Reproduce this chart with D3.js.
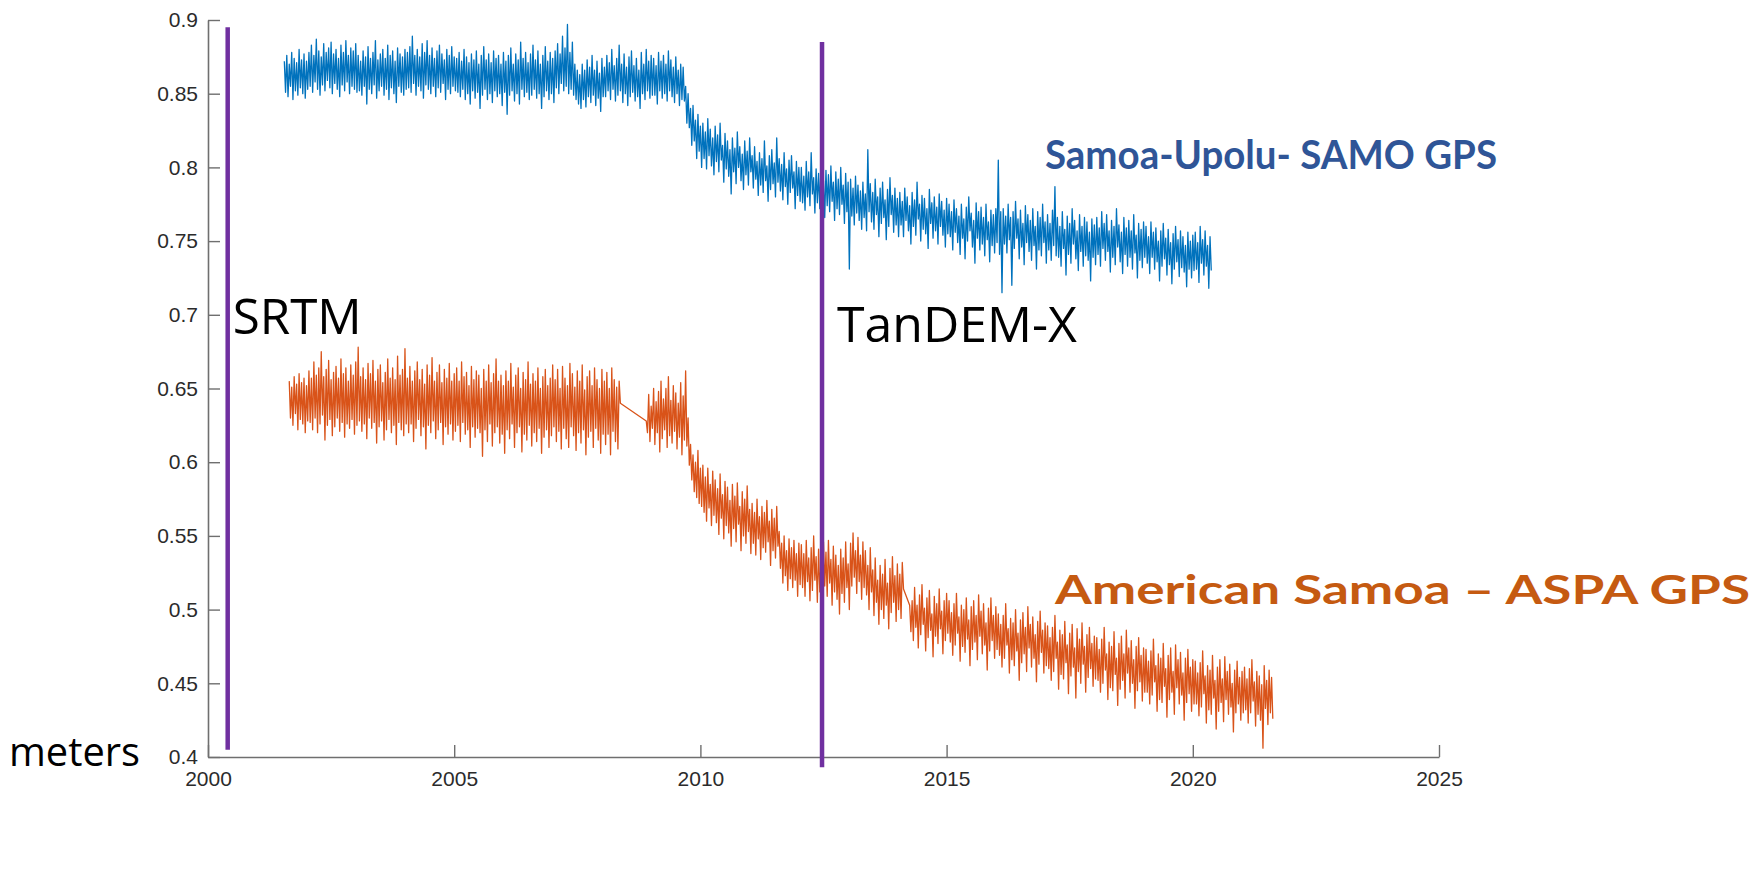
<!DOCTYPE html>
<html>
<head>
<meta charset="utf-8">
<script src="https://cdn.jsdelivr.net/npm/d3@7"></script>
<style>
  html, body { margin: 0; padding: 0; background: #fff; }
  svg { display: block; }
</style>
</head>
<body>
<svg id="chart" width="1759" height="889"></svg>
<script>
// ---------------- DATA ----------------
const xTicks = [2000, 2005, 2010, 2015, 2020, 2025];
const yTicks = [0.4, 0.45, 0.5, 0.55, 0.6, 0.65, 0.7, 0.75, 0.8, 0.85, 0.9];

// Samoa-Upolu SAMO GPS (m), read as the upper and lower edge of the noisy daily band:
// "High" readings every 0.05 yr from 2001.55, "Low" readings offset by 0.025 yr.
const samoStart = 2001.55;
const samoStep = 0.05;
const samoHigh = [
  .872,.876,.870,.878,.874,.871,.880,.873,.877,.872,
  .878,.883,.876,.887,.879,.875,.884,.878,.881,.885,.877,.880,.874,.883,.878,.886,.876,.881,.879,.884,
  .876,.872,.879,.875,.882,.874,.878,.886,.873,.877,.880,.874,.883,.876,.879,.872,.881,.877,.875,.880,
  .878,.882,.889,.876,.880,.875,.884,.878,.886,.876,.881,.874,.879,.883,.877,.873,.880,.876,.882,.875,
  .874,.878,.872,.880,.875,.871,.877,.873,.879,.870,.876,.882,.873,.877,.871,.879,.874,.876,.870,.878,
  .872,.876,.881,.870,.877,.873,.885,.874,.878,.871,.877,.883,.873,.879,.870,.876,.882,.872,.878,.874,
  .879,.884,.877,.889,.881,.897,.878,.885,.870,.866,.863,.870,.866,.873,.868,.876,.866,.872,.864,.874,
  .868,.876,.871,.880,.869,.874,.883,.870,.877,.868,.875,.879,.869,.874,.866,.878,.870,.880,.872,.876,
  .874,.869,.878,.872,.876,.870,.879,.873,.868,.875,.866,.870,.868,.855,.850,.840,.842,.832,.836,.828,
  .830,.824,.833,.826,.820,.828,.822,.830,.815,.823,.818,.812,.820,.813,.824,.814,.809,.818,.811,.820,
  .808,.814,.804,.810,.806,.818,.801,.808,.812,.803,.820,.806,.802,.810,.799,.805,.808,.797,.804,.800,
  .800,.794,.804,.797,.810,.793,.799,.796,.803,.791,.798,.795,.801,.790,.797,.792,.800,.788,.796,.790,
  .792,.786,.794,.788,.784,.790,.782,.812,.789,.783,.792,.780,.786,.790,.778,.785,.793,.781,.786,.779,
  .783,.777,.786,.780,.774,.783,.778,.790,.775,.781,.779,.772,.785,.776,.780,.773,.782,.777,.771,.779,
  .775,.770,.778,.772,.767,.775,.765,.773,.780,.769,.764,.776,.770,.773,.766,.775,.763,.771,.768,.772,
  .805,.770,.772,.767,.775,.766,.770,.777,.765,.771,.762,.774,.768,.764,.772,.760,.770,.766,.775,.763,
  .768,.762,.771,.787,.766,.760,.770,.758,.767,.762,.772,.764,.757,.768,.760,.766,.763,.756,.765,.761,
  .766,.759,.770,.762,.768,.757,.764,.760,.772,.761,.756,.766,.759,.764,.757,.768,.754,.762,.758,.763,
  .760,.753,.763,.756,.759,.750,.757,.762,.752,.758,.749,.755,.760,.751,.757,.753,.747,.756,.750,.754,
  .756,.749,.760,.751,.757,.747,.753
];
const samoLow = [
  .851,.848,.855,.846,.852,.849,.854,.850,.847,.853,
  .855,.851,.858,.853,.849,.856,.852,.859,.854,.850,.857,.853,.848,.856,.852,.858,.850,.855,.853,.851,
  .852,.849,.855,.843,.853,.850,.856,.847,.852,.855,.849,.853,.846,.854,.850,.844,.855,.851,.849,.853,
  .854,.851,.857,.849,.855,.852,.847,.856,.853,.850,.855,.848,.854,.851,.857,.846,.853,.850,.855,.852,
  .851,.848,.853,.846,.850,.843,.852,.847,.851,.840,.849,.853,.846,.850,.844,.852,.848,.850,.842,.851,
  .836,.849,.852,.845,.850,.843,.853,.848,.851,.846,.849,.853,.847,.850,.840,.848,.852,.846,.850,.844,
  .854,.850,.857,.852,.855,.850,.853,.849,.846,.843,.840,.846,.841,.848,.844,.849,.842,.847,.838,.848,
  .848,.852,.846,.853,.845,.849,.852,.844,.850,.842,.848,.851,.845,.848,.840,.850,.846,.852,.847,.849,
  .849,.843,.852,.847,.850,.845,.852,.848,.844,.850,.842,.846,.845,.830,.827,.815,.818,.806,.811,.800,
  .806,.799,.808,.801,.795,.804,.797,.805,.790,.799,.794,.782,.797,.789,.800,.791,.785,.795,.788,.797,
  .786,.792,.781,.788,.783,.791,.777,.785,.789,.780,.790,.784,.778,.787,.775,.783,.786,.772,.781,.777,
  .776,.771,.780,.774,.782,.769,.776,.772,.779,.766,.774,.770,.777,.764,.772,.768,.775,.762,.770,.731,
  .767,.761,.769,.764,.758,.766,.757,.770,.763,.758,.768,.753,.762,.766,.751,.760,.768,.756,.761,.753,
  .761,.753,.764,.757,.748,.760,.754,.765,.750,.758,.755,.745,.762,.752,.757,.748,.760,.754,.746,.755,
  .753,.744,.756,.749,.741,.752,.738,.750,.757,.746,.735,.752,.744,.748,.740,.751,.736,.747,.742,.749,
  .741,.715,.748,.742,.751,.720,.745,.752,.738,.746,.734,.749,.743,.737,.747,.731,.744,.740,.749,.735,
  .744,.737,.747,.740,.739,.733,.745,.727,.741,.735,.748,.738,.730,.743,.733,.740,.737,.723,.739,.734,
  .741,.733,.745,.737,.743,.729,.739,.734,.746,.736,.728,.741,.733,.739,.731,.742,.725,.737,.732,.739,
  .735,.728,.739,.731,.736,.723,.733,.738,.727,.734,.721,.731,.736,.726,.732,.729,.719,.731,.725,.730,
  .731,.722,.735,.727,.733,.718,.730
];

// American Samoa ASPA GPS (m): three recorded stretches, upper/lower band edges offset by 0.025 yr
const aspaStep = 0.05;
const aspaSeg1Start = 2001.65;
const aspaSeg1High = [
  .655,.651,.658,.653,.660,.654,.657,.652,
  .662,.657,.668,.659,.664,.675,.658,.663,.669,.656,.661,.665,.657,.670,.660,.664,.655,.666,.659,.668,
  .678,.658,.664,.656,.667,.660,.669,.655,.663,.666,.654,.661,.670,.657,.664,.656,.672,.659,.663,.677,
  .657,.665,.655,.662,.668,.656,.663,.653,.666,.659,.671,.655,.661,.666,.654,.663,.657,.667,.655,.660,
  .664,.655,.668,.658,.661,.652,.665,.656,.662,.659,.650,.663,.655,.666,.654,.660,.670,.655,.659,.652,
  .662,.655,.667,.651,.659,.664,.650,.661,.656,.668,.653,.660,.655,.664,.650,.658,.663,.652,.657,.666,
  .656,.663,.650,.665,.657,.652,.667,.660,.651,.662,.655,.666,.649,.658,.662,.652,.664,.656,.650,.663,
  .655,.661,.650,.664,.656,.651,.655
];
const aspaSeg1Low = [
  .630,.625,.633,.622,.629,.626,.620,.628,
  .627,.622,.630,.620,.626,.632,.615,.625,.629,.618,.624,.630,.621,.627,.617,.626,.623,.629,.619,.625,
  .628,.621,.626,.616,.630,.623,.627,.613,.624,.628,.615,.622,.629,.620,.625,.612,.627,.622,.618,.626,
  .620,.626,.614,.623,.629,.618,.624,.609,.625,.620,.628,.616,.622,.627,.612,.624,.619,.626,.615,.621,
  .625,.614,.627,.619,.622,.610,.624,.617,.623,.620,.604,.622,.614,.626,.611,.620,.624,.613,.619,.606,
  .622,.616,.626,.610,.620,.624,.607,.619,.615,.625,.611,.620,.614,.623,.606,.617,.622,.610,.618,.624,
  .614,.621,.609,.623,.616,.610,.624,.618,.608,.620,.613,.622,.605,.617,.621,.610,.623,.615,.606,.619,
  .612,.619,.605,.621,.614,.609,.640
];
const aspaSeg2Start = 2008.9;
const aspaSeg2High = [
  .628,.646,.638,
  .650,.641,.648,.655,.643,.650,.658,.642,.652,.647,.640,.654,.645,.662,.630,.612,.605,.600,.608,.596,
  .598,.590,.596,.585,.594,.588,.582,.592,.578,.587,.583,.574,.585,.577,.586,.570,.580,.575,.584,.568,
  .572,.566,.575,.563,.570,.566,.574,.560,.568,.562,.570,.553,.545,.550,.540,.548,.542,.547,.538,.545,
  .544,.538,.547,.535,.542,.550,.536,.541,.532,.546,.539,.547,.534,.543,.537,.530,.541,.535,.546,.531,
  .545,.552,.540,.549,.537,.546,.540,.530,.542,.527,.535,.520,.530,.524,.534,.518,.528,.536,.523,.531,
  .524,.532
];
const aspaSeg2Low = [
  .620,.614,.623,
  .612,.620,.607,.616,.622,.610,.618,.613,.621,.609,.617,.605,.615,.611,.598,.588,.580,.576,.572,.570,
  .566,.560,.569,.557,.564,.559,.551,.562,.548,.557,.552,.543,.555,.546,.558,.540,.550,.545,.553,.538,
  .545,.537,.548,.534,.542,.539,.546,.530,.540,.535,.543,.528,.518,.523,.513,.521,.515,.520,.509,.517,
  .515,.509,.519,.506,.513,.520,.505,.512,.501,.516,.509,.518,.503,.512,.507,.497,.511,.505,.515,.500,
  .516,.522,.511,.519,.507,.515,.510,.500,.512,.496,.505,.490,.500,.494,.503,.487,.498,.505,.492,.500,
  .494,.514
];
const aspaSeg3Start = 2014.25;
const aspaSeg3High = [
  .503,.506,.515,.503,.510,.517,.501,.508,.513,.497,.509,.504,.514,.499,.506,.511,
  .506,.498,.504,.511,.495,.503,.500,.508,.493,.502,.506,.496,.510,.499,.504,.491,.501,.508,.496,.502,
  .497,.490,.496,.504,.487,.494,.491,.500,.484,.493,.498,.488,.502,.490,.495,.483,.492,.499,.486,.491,
  .489,.481,.488,.496,.478,.486,.483,.492,.476,.484,.490,.474,.487,.480,.491,.475,.483,.488,.477,.482,
  .481,.473,.480,.488,.470,.478,.475,.485,.467,.477,.482,.470,.486,.474,.479,.466,.475,.481,.469,.474,
  .473,.465,.472,.480,.462,.470,.467,.477,.460,.469,.474,.458,.476,.466,.471,.457,.467,.473,.461,.466,
  .465,.457,.464,.472,.455,.462,.459,.469,.452,.461,.466,.453,.468,.458,.463,.450,.459,.465,.454,.458,
  .461,.453,.460,.466,.451,.458,.455,.449,.462,.452,.459,.454
];
const aspaSeg3Low = [
  .485,.479,.488,.474,.483,.490,.472,.481,.486,.468,.482,.477,.487,.470,.479,.484,
  .478,.469,.476,.484,.465,.475,.471,.480,.462,.473,.478,.466,.482,.470,.476,.459,.472,.479,.467,.473,
  .469,.461,.467,.476,.457,.466,.462,.472,.452,.464,.470,.458,.474,.461,.467,.451,.463,.471,.457,.462,
  .460,.452,.458,.467,.446,.456,.453,.464,.443,.455,.461,.440,.458,.450,.463,.444,.454,.460,.448,.453,
  .452,.444,.450,.459,.439,.447,.445,.456,.435,.446,.452,.440,.457,.444,.450,.433,.445,.451,.438,.444,
  .444,.436,.442,.451,.431,.439,.437,.448,.427,.439,.444,.429,.447,.436,.442,.425,.437,.443,.431,.436,
  .436,.428,.434,.443,.423,.432,.429,.440,.419,.431,.437,.424,.439,.429,.434,.417,.430,.436,.425,.430,
  .432,.423,.430,.438,.421,.429,.425,.406,.433,.422,.430,.426
];

// DEM acquisition markers (year, vertical extent in metres)
const demNames   = ["SRTM", "TanDEM-X"];
const demYears   = [2000.4, 2012.47];
const demTops    = [0.895, 0.885];
const demBottoms = [0.405, 0.393];

const seriesNames = ["Samoa-Upolu- SAMO GPS", "American Samoa \u2013 ASPA GPS"];
const yUnit = "meters";

// ---------------- CHART ----------------
const svg = d3.select("#chart");
const x = d3.scaleLinear().domain([2000, 2025]).range([208, 1439]);
const y = d3.scaleLinear().domain([0.4, 0.9]).range([757, 20]);

// interleave the upper and lower band readings into one time-ordered list
function merge(start, step, hi, lo) {
  const out = [];
  hi.forEach((v, i) => {
    out.push({ t: start + i * step, v });
    if (i < lo.length) out.push({ t: start + step / 2 + i * step, v: lo[i] });
  });
  return out;
}
const samoPts = merge(samoStart, samoStep, samoHigh, samoLow);
const aspaPts = merge(aspaSeg1Start, aspaStep, aspaSeg1High, aspaSeg1Low)
  .concat(merge(aspaSeg2Start, aspaStep, aspaSeg2High, aspaSeg2Low))
  .concat(merge(aspaSeg3Start, aspaStep, aspaSeg3High, aspaSeg3Low));

const line = d3.line().x(d => x(d.t)).y(d => y(d.v));

// axes
const axisColor = "#6f6f6f";
const xAxis = d3.axisBottom(x).tickValues(xTicks).tickFormat(d3.format("d"))
  .tickSizeInner(-12).tickSizeOuter(0).tickPadding(14);
const yAxis = d3.axisLeft(y).tickValues(yTicks).tickFormat(d => String(+d.toFixed(2)))
  .tickSizeInner(-12).tickSizeOuter(0).tickPadding(10);

const gx = svg.append("g").attr("transform", `translate(0,${y(0.4)})`).call(xAxis);
const gy = svg.append("g").attr("transform", `translate(${x(2000)},0)`).call(yAxis);
[gx, gy].forEach(g => {
  g.select(".domain").attr("stroke", axisColor).attr("stroke-width", 1.6);
  g.selectAll(".tick line").attr("stroke", axisColor).attr("stroke-width", 1.4);
  g.selectAll(".tick text")
    .attr("fill", "#2b2b2b")
    .style("font-family", "'Liberation Sans', Arial, Helvetica, sans-serif")
    .style("font-size", "21px");
});

// series
svg.append("path").datum(samoPts)
  .attr("d", line).attr("fill", "none")
  .attr("stroke", "#0072BD").attr("stroke-width", 1.3).attr("stroke-linejoin", "round");
svg.append("path").datum(aspaPts)
  .attr("d", line).attr("fill", "none")
  .attr("stroke", "#D95319").attr("stroke-width", 1.3).attr("stroke-linejoin", "round");

// DEM marker lines
demYears.forEach((yr, i) => {
  svg.append("line")
    .attr("x1", x(yr)).attr("x2", x(yr))
    .attr("y1", y(demTops[i])).attr("y2", y(demBottoms[i]))
    .attr("stroke", "#7030A0").attr("stroke-width", 4.5);
});

// annotation text
const annFont = "'Open Sans', 'Noto Sans', sans-serif";
svg.append("text").text(demNames[0])
  .attr("x", x(demYears[0]) + 5).attr("y", 334)
  .style("font-family", annFont).style("font-size", "50px").attr("fill", "#000")
  .attr("textLength", 129).attr("lengthAdjust", "spacingAndGlyphs");
svg.append("text").text(demNames[1])
  .attr("x", x(demYears[1]) + 15).attr("y", 342)
  .style("font-family", annFont).style("font-size", "50px").attr("fill", "#000")
  .attr("textLength", 240).attr("lengthAdjust", "spacingAndGlyphs");

svg.append("text").text(yUnit)
  .attr("x", 9).attr("y", 766)
  .style("font-family", annFont).style("font-size", "41px").attr("fill", "#000")
  .attr("textLength", 131).attr("lengthAdjust", "spacingAndGlyphs");

const labFont = "Lato, 'Open Sans', sans-serif";
svg.append("text").text(seriesNames[0])
  .attr("x", 1045).attr("y", 169)
  .style("font-family", labFont).style("font-weight", "bold").style("font-size", "41px")
  .attr("fill", "#2F5597")
  .attr("textLength", 452).attr("lengthAdjust", "spacingAndGlyphs");

svg.append("text").text(seriesNames[1])
  .attr("x", 1055).attr("y", 604)
  .style("font-family", labFont).style("font-weight", "bold").style("font-size", "41px")
  .attr("fill", "#C55A11")
  .attr("textLength", 695).attr("lengthAdjust", "spacingAndGlyphs");
</script>
</body>
</html>
